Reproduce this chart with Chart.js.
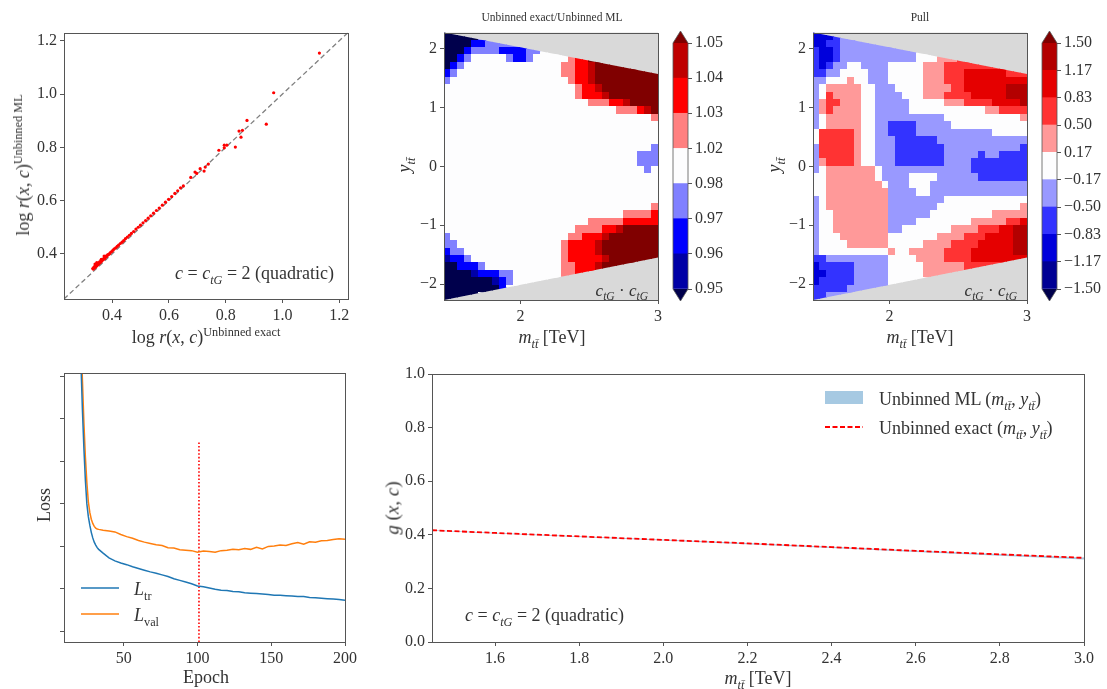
<!DOCTYPE html>
<html>
<head>
<meta charset="utf-8">
<script src="https://cdn.jsdelivr.net/npm/chart.js@4.4.1/dist/chart.umd.min.js"></script>
<style>
  body { margin: 0; background: #fff; width: 1107px; height: 689px; position: relative; overflow: hidden;
         font-family: 'Liberation Serif', serif; color: #333; }
  canvas { position: absolute; }
  .t { position: absolute; white-space: nowrap; font-size: 18px; line-height: 1; }
  .t sub, .t sup { font-size: 0.68em; line-height: 0; }
  .c { transform: translate(-50%, -50%); }
  .r { transform: translate(-100%, -50%); }
  .l { transform: translate(0, -50%); }
  .rot { transform: translate(-50%, -50%) rotate(-90deg); }
</style>
</head>
<body>
<canvas id="p1" width="360" height="310" style="left:0;top:20px"></canvas>
<canvas id="p2" width="285" height="330" style="left:380px;top:20px"></canvas>
<canvas id="cb1" width="75" height="290" style="left:665px;top:20px"></canvas>
<canvas id="p3" width="296" height="330" style="left:740px;top:20px"></canvas>
<canvas id="cb2" width="71" height="290" style="left:1036px;top:20px"></canvas>
<canvas id="p4" width="360" height="329" style="left:0;top:360px"></canvas>
<canvas id="p5" width="727" height="329" style="left:380px;top:360px"></canvas>

<!-- panel 1 -->
<div class="t c" style="left:206px;top:337px">log <i>r</i>(<i>x</i>, <i>c</i>)<sup>Unbinned exact</sup></div>
<div class="t rot" style="left:23px;top:165px">log <i>r</i>(<i>x</i>, <i>c</i>)<sup>Unbinned ML</sup></div>
<div class="t r" style="left:334px;top:273px"><i>c</i> = <i>c<sub>tG</sub></i> = 2 (quadratic)</div>
<!-- panel 2 -->
<div class="t c" style="left:552px;top:18px;font-size:11.5px">Unbinned exact/Unbinned ML</div>
<div class="t rot" style="left:404px;top:165px"><i>y<sub>tt̄</sub></i></div>
<div class="t c" style="left:552px;top:337px"><i>m<sub>tt̄</sub></i> [TeV]</div>
<div class="t r" style="left:648px;top:290px;font-size:17px"><i>c<sub>tG</sub></i> · <i>c<sub>tG</sub></i></div>
<!-- panel 3 -->
<div class="t c" style="left:920px;top:18px;font-size:11.5px">Pull</div>
<div class="t rot" style="left:774px;top:165px"><i>y<sub>tt̄</sub></i></div>
<div class="t c" style="left:920px;top:337px"><i>m<sub>tt̄</sub></i> [TeV]</div>
<div class="t r" style="left:1017px;top:290px;font-size:17px"><i>c<sub>tG</sub></i> · <i>c<sub>tG</sub></i></div>
<!-- panel 4 -->
<div class="t c" style="left:206px;top:677px">Epoch</div>
<div class="t rot" style="left:44px;top:505px">Loss</div>
<div class="t l" style="left:134px;top:589px"><i>L</i><sub>tr</sub></div>
<div class="t l" style="left:134px;top:615px"><i>L</i><sub>val</sub></div>
<!-- panel 5 -->
<div class="t rot" style="left:392px;top:508px;font-size:19px"><i>g</i> (<i>x</i>, <i>c</i>)</div>
<div class="t c" style="left:758px;top:678px"><i>m<sub>tt̄</sub></i> [TeV]</div>
<div class="t l" style="left:465px;top:615px"><i>c</i> = <i>c<sub>tG</sub></i> = 2 (quadratic)</div>
<div class="t l" style="left:879px;top:399px">Unbinned ML (<i>m<sub>tt̄</sub></i>, <i>y<sub>tt̄</sub></i>)</div>
<div class="t l" style="left:879px;top:428px">Unbinned exact (<i>m<sub>tt̄</sub></i>, <i>y<sub>tt̄</sub></i>)</div>

<script>
// ---------- panel 1: log r, ML vs exact ----------
const scatterX = [0.332,0.334,0.336,0.338,0.340,0.342,0.344,0.346,0.348,0.350,0.352,0.354,0.356,0.359,0.361,
  0.364,0.366,0.369,0.372,0.375,0.378,0.381,0.384,0.387,0.391,0.395,0.399,0.403,0.408,0.413,0.418,0.423,0.429,
  0.435,0.441,0.447,0.454,0.461,0.468,0.476,0.484,0.492,0.500,0.509,0.518,0.527,0.536,0.546,0.556,0.566,0.577,
  0.588,0.599,0.610,0.621,0.631,0.641,
  0.340,0.346,0.362,0.372,
  0.651,0.677,0.692,0.698,0.710,0.724,0.728,0.739,0.776,0.795,0.795,0.804,0.834,0.847,0.854,0.859,0.875,0.943,0.969,1.130];
const scatterY = [0.345,0.343,0.350,0.347,0.354,0.351,0.357,0.355,0.362,0.359,0.366,0.363,0.370,0.368,0.375,
  0.373,0.380,0.378,0.385,0.383,0.392,0.390,0.396,0.397,0.401,0.406,0.409,0.414,0.419,0.423,0.428,0.433,0.439,
  0.444,0.450,0.457,0.463,0.470,0.477,0.484,0.493,0.500,0.508,0.517,0.525,0.534,0.543,0.553,0.563,0.572,0.583,
  0.594,0.605,0.615,0.627,0.637,0.648,
  0.362,0.367,0.380,0.392,
  0.655,0.687,0.707,0.702,0.720,0.711,0.726,0.737,0.789,0.798,0.808,0.808,0.801,0.861,0.838,0.864,0.901,0.887,1.005,1.154];
const logRange = [0.2307, 1.2307];
const logTicks = [0.4, 0.6, 0.8, 1.0, 1.2];

// ---------- panels 2 & 3: maps in (m_tt, y_tt) ----------
const mapX = [1.445, 3.0];
const mapY = [-2.27, 2.27];
const edgeTop = [2.27, 1.565];
const edgeBottom = [-2.27, -1.55];
const mapXTicks = [2, 3];
const mapYTicks = [-2, -1, 0, 1, 2];

const ratioLevels = ['0.95', '0.96', '0.97', '0.98', '1.02', '1.03', '1.04', '1.05'];
const ratioColors = ['#00004c', '#0000a6', '#0000ff', '#8080ff', '#fdfdfe', '#ff8080', '#ff0000', '#bf0000', '#800000'];
// one char per cell = colour band index, rows from top (y = +2.27) to bottom
const ratioGrid = [
  "00000 33334 44444 44444 44444 44444 4",
  "00002 23333 33344 44444 44444 44444 4",
  "00023 33322 22334 44444 44444 44444 4",
  "00234 44443 22344 44456 68888 88888 8",
  "02344 44444 44444 44556 67888 88888 8",
  "23444 44444 44444 44556 67888 88888 8",
  "34444 44444 44444 44456 67888 88888 8",
  "44444 44444 44444 44445 66788 88888 8",
  "44444 44444 44444 44445 66678 88888 8",
  "44444 44444 44444 44444 45556 67888 8",
  "44444 44444 44444 44444 44444 55567 8",
  "44444 44444 44444 44444 44444 44444 5",
  "44444 44444 44444 44444 44444 44444 4",
  "44444 44444 44444 44444 44444 44444 4",
  "44444 44444 44444 44444 44444 44444 4",
  "44444 44444 44444 44444 44444 44444 3",
  "44444 44444 44444 44444 44444 44433 3",
  "44444 44444 44444 44444 44444 44433 3",
  "44444 44444 44444 44444 44444 44443 4",
  "44444 44444 44444 44444 44444 44444 4",
  "44444 44444 44444 44444 44444 44444 4",
  "44444 44444 44444 44444 44444 44444 4",
  "44444 44444 44444 44444 44444 44444 4",
  "44444 44444 44444 44444 44444 44444 5",
  "44444 44444 44444 44444 44444 45555 6",
  "44444 44444 44444 44444 45555 56666 6",
  "44444 44444 44444 44445 55566 78888 8",
  "34444 44444 44444 44455 66678 88888 8",
  "33444 44444 44444 44566 66788 88888 8",
  "23344 44444 44444 44566 66788 88888 8",
  "12234 44444 44444 44566 66678 88888 8",
  "00222 34444 44444 44556 66788 88888 8",
  "00001 22233 44444 44556 66666 66666 6",
  "00000 00123 44444 44444 44444 44444 4",
  "00000 00024 44444 44444 44444 44444 4",
  "00000 44444 44444 44444 44444 44444 4"
];

const pullLevels = ['\u22121.50', '\u22121.17', '\u22120.83', '\u22120.50', '\u22120.17', '0.17', '0.50', '0.83', '1.17', '1.50'];
const pullColors = ['#00004c', '#000094', '#0000db', '#3333ff', '#9999ff', '#fdfdfe', '#ff9999', '#ff3333', '#e50000', '#b30000', '#800000'];
const pullGrid = [
  "22234 44444 44444 44444 44444 44444 4",
  "22334 44444 44444 44444 44444 44444 4",
  "32234 44444 44444 55566 66666 66666 6",
  "32234 44444 44444 55566 67777 77777 7",
  "32344 55444 45555 56667 77777 77777 7",
  "33445 55544 45555 56667 77888 88877 7",
  "44555 65544 45555 56667 77888 88888 8",
  "45666 66554 44555 56666 77888 88899 9",
  "45766 66554 44455 56667 77788 88899 9",
  "46776 66554 44445 55556 66777 78888 9",
  "46766 66554 44445 55555 55555 66777 7",
  "45666 66554 44444 44445 55555 55555 6",
  "45666 66554 43333 44444 55555 55555 5",
  "57777 76554 43333 44444 44444 45555 5",
  "57777 76554 44333 33344 44444 44444 4",
  "47777 76554 44333 33334 44444 44444 3",
  "47777 76554 44333 33334 44443 44333 3",
  "46777 76554 44333 33334 44433 33333 3",
  "45666 66665 44444 44444 44433 33333 3",
  "55666 66665 44445 55544 44443 33333 3",
  "55666 66666 54445 55444 44444 44444 4",
  "55666 66666 64444 55444 44444 44444 4",
  "45666 66666 64444 44445 55555 55555 5",
  "45666 66666 64444 44455 55555 55555 6",
  "45566 66666 64444 44555 55555 56666 6",
  "45566 66666 64444 55555 55566 66677 8",
  "45566 66666 64455 55555 66667 77889 9",
  "45556 66666 65555 55566 66777 88889 9",
  "45555 66666 65555 56666 77778 88889 9",
  "45555 55555 56556 66667 77788 88889 9",
  "33444 44444 45555 66667 77788 88888 8",
  "23333 34444 45555 56666 66777 77777 7",
  "22333 34444 45555 56666 66666 66666 6",
  "23333 34444 45555 55555 55555 55555 5",
  "33333 44444 44444 44444 44444 44444 4",
  "33444 44444 44444 44444 44444 44444 4"
];

// ---------- panel 4: training history ----------
const epochs = [19,20,21,22,23,24,25,26,27,28,29,30,31,32,33,36,40,44,48,52,56,60,64,68,72,76,80,84,88,92,96,
  100,104,108,112,116,120,124,128,132,136,140,144,148,152,156,160,164,168,172,176,180,184,188,192,196,200];
const lossTrain = [9.0,7.5,6.3,5.2,4.3,3.55,3.0,2.7,2.5,2.33,2.2,2.1,2.03,1.97,1.93,1.84,1.73,1.66,1.61,1.57,1.52,
  1.48,1.44,1.40,1.37,1.33,1.29,1.24,1.20,1.16,1.12,1.07,1.05,1.02,0.99,0.97,0.96,0.94,0.93,0.91,0.90,0.89,0.88,
  0.87,0.85,0.85,0.84,0.83,0.82,0.82,0.80,0.79,0.78,0.77,0.76,0.75,0.73];
const lossVal = [12,9.5,7.0,5.9,4.9,4.1,3.5,3.05,2.8,2.64,2.54,2.47,2.43,2.41,2.40,2.38,2.36,2.34,2.28,2.23,2.19,
  2.14,2.10,2.07,2.04,2.02,1.97,1.96,1.92,1.91,1.90,1.86,1.89,1.88,1.86,1.90,1.91,1.93,1.92,1.95,1.93,1.98,1.94,
  2.00,2.01,2.03,2.02,2.06,2.09,2.05,2.11,2.10,2.13,2.14,2.16,2.18,2.17];
const bestEpoch = 101;
const bestLineTop = 4.45;
const epochRange = [9.5, 200];
const epochTicks = [50, 100, 150, 200];
const lossRange = [-0.25, 6.08];
const lossTicks = [0, 1, 2, 3, 4, 5, 6];

// ---------- panel 5: g(x, c) vs m_tt ----------
const mtt = [1.45, 1.6, 1.8, 2.0, 2.2, 2.4, 2.6, 2.8, 3.0];
const gExact = [0.417, 0.407, 0.394, 0.381, 0.368, 0.354, 0.340, 0.327, 0.314];
const gMLLow = [0.415, 0.405, 0.392, 0.379, 0.365, 0.351, 0.336, 0.322, 0.308];
const gMLHigh = [0.418, 0.408, 0.395, 0.382, 0.369, 0.355, 0.341, 0.328, 0.315];
const mttRange = [1.45, 3.0];
const mttTicks = [1.6, 1.8, 2.0, 2.2, 2.4, 2.6, 2.8, 3.0];
const gTicks = [0, 0.2, 0.4, 0.6, 0.8, 1.0];

// ---------- helpers ----------
const FONT = { family: "'Liberation Serif', serif", size: 16 };
const INK = '#333';
const SPINE = '#555';
const fmt1 = v => v.toFixed(1);
const fmtInt = v => (v < 0 ? '\u2212' : '') + Math.abs(v);

function axis(pos, min, max, ticks, fmt, fit) {
  return {
    type: 'linear', position: pos, min: min, max: max,
    afterBuildTicks: s => { s.ticks = ticks.map(v => ({ value: v })); },
    afterFit: s => { if (pos === 'left' || pos === 'right') s.width = fit; else s.height = fit; },
    ticks: { font: FONT, color: INK, padding: 3, maxRotation: 0, autoSkip: false, callback: fmt },
    grid: { display: true, drawOnChartArea: false, drawTicks: true, tickLength: 4, color: SPINE },
    border: { display: false }
  };
}

function base(padding) {
  return {
    responsive: false, animation: false, events: [],
    layout: { padding: padding },
    plugins: { legend: { display: false }, tooltip: { enabled: false } }
  };
}

const frame = {
  id: 'frame',
  afterDraw(chart) {
    const a = chart.chartArea, ctx = chart.ctx;
    ctx.save();
    ctx.strokeStyle = SPINE;
    ctx.lineWidth = 1;
    ctx.strokeRect(Math.round(a.left) + 0.5, Math.round(a.top) + 0.5,
                   Math.round(a.right) - Math.round(a.left), Math.round(a.bottom) - Math.round(a.top));
    ctx.restore();
  }
};

function heatmap(grid, colors) {
  return {
    id: 'heatmap',
    beforeDatasetsDraw(chart) {
      const { ctx, chartArea: a, scales: { x, y } } = chart;
      ctx.save();
      ctx.fillStyle = '#d9d9d9';
      ctx.fillRect(a.left, a.top, a.width, a.height);
      // data only exists inside the phase-space trapezoid
      ctx.beginPath();
      ctx.moveTo(x.getPixelForValue(mapX[0]), y.getPixelForValue(edgeTop[0]));
      ctx.lineTo(x.getPixelForValue(mapX[1]), y.getPixelForValue(edgeTop[1]));
      ctx.lineTo(x.getPixelForValue(mapX[1]), y.getPixelForValue(edgeBottom[1]));
      ctx.lineTo(x.getPixelForValue(mapX[0]), y.getPixelForValue(edgeBottom[0]));
      ctx.closePath();
      ctx.clip();
      const rows = grid.map(r => r.replace(/ /g, ''));
      const dy = (mapY[1] - mapY[0]) / rows.length;
      rows.forEach((row, r) => {
        const dx = (mapX[1] - mapX[0]) / row.length;
        for (let c = 0; c < row.length; c++) {
          const x0 = Math.floor(x.getPixelForValue(mapX[0] + c * dx));
          const x1 = Math.ceil(x.getPixelForValue(mapX[0] + (c + 1) * dx));
          const y0 = Math.floor(y.getPixelForValue(mapY[1] - r * dy));
          const y1 = Math.ceil(y.getPixelForValue(mapY[1] - (r + 1) * dy));
          ctx.fillStyle = colors[parseInt(row[c], 16)];
          ctx.fillRect(x0, y0, x1 - x0, y1 - y0);
        }
      });
      ctx.restore();
    }
  };
}

function cbExtend(colors) {
  return {
    id: 'cbext',
    afterDatasetsDraw(chart) {
      const { ctx, chartArea: a } = chart;
      const mid = (a.left + a.right) / 2, h = 12;
      ctx.save();
      ctx.fillStyle = colors[colors.length - 1];
      ctx.beginPath(); ctx.moveTo(a.left, a.top); ctx.lineTo(mid, a.top - h); ctx.lineTo(a.right, a.top); ctx.closePath(); ctx.fill();
      ctx.fillStyle = colors[0];
      ctx.beginPath(); ctx.moveTo(a.left, a.bottom); ctx.lineTo(mid, a.bottom + h); ctx.lineTo(a.right, a.bottom); ctx.closePath(); ctx.fill();
      ctx.strokeStyle = SPINE; ctx.lineWidth = 0.8;
      ctx.beginPath();
      ctx.moveTo(a.left, a.top); ctx.lineTo(mid, a.top - h); ctx.lineTo(a.right, a.top);
      ctx.lineTo(a.right, a.bottom); ctx.lineTo(mid, a.bottom + h); ctx.lineTo(a.left, a.bottom);
      ctx.closePath(); ctx.stroke();
      ctx.restore();
    }
  };
}

function colorbar(id, labels, colors, padLeft, fitW) {
  const n = labels.length - 1;
  const idx = labels.map((_, i) => i);
  new Chart(id, {
    type: 'bar',
    data: {
      labels: ['cb'],
      datasets: idx.slice(0, n).map(i => ({
        data: [[i, i + 1]], backgroundColor: colors[i + 1], borderWidth: 0,
        grouped: false, barPercentage: 1, categoryPercentage: 1
      }))
    },
    options: {
      ...base({ left: padLeft, top: 23, right: 0, bottom: 21 }),
      scales: {
        x: { display: false },
        y: axis('right', 0, n, idx, v => labels[v], fitW)
      }
    },
    plugins: [cbExtend(colors)]
  });
}

function mapChart(id, grid, colors, yFit, padRight) {
  new Chart(id, {
    type: 'scatter',
    data: { datasets: [] },
    options: {
      ...base({ left: 0, top: 12, right: padRight, bottom: 0 }),
      scales: {
        x: axis('bottom', mapX[0], mapX[1], mapXTicks, fmtInt, 50),
        y: axis('left', mapY[0], mapY[1], mapYTicks, fmtInt, yFit)
      }
    },
    plugins: [heatmap(grid, colors), frame]
  });
}

// ---------- panel 1 ----------
new Chart('p1', {
  type: 'scatter',
  data: {
    datasets: [
      { data: scatterX.map((x, i) => ({ x: x, y: scatterY[i] })), backgroundColor: '#ff0000',
        borderWidth: 0, pointRadius: 1.6, order: 0 },
      { type: 'line', data: logRange.map(v => ({ x: v, y: v })), borderColor: '#808080',
        borderWidth: 1.3, borderDash: [5, 3], pointRadius: 0, order: 1 }
    ]
  },
  options: {
    ...base({ left: 0, top: 12, right: 12, bottom: 0 }),
    scales: {
      x: axis('bottom', logRange[0], logRange[1], logTicks, fmt1, 31),
      y: axis('left', logRange[0], logRange[1], logTicks, fmt1, 64)
    }
  },
  plugins: [frame]
});

// ---------- panels 2, 3 and colour bars ----------
mapChart('p2', ratioGrid, ratioColors, 64, 6);
colorbar('cb1', ratioLevels, ratioColors, 8, 52);
mapChart('p3', pullGrid, pullColors, 73, 9);
colorbar('cb2', pullLevels, pullColors, 6, 50);

// ---------- panel 4 ----------
const lossLegend = {
  id: 'lossLegend',
  afterDraw(chart) {
    const { ctx, chartArea: a } = chart;
    ctx.save();
    ctx.lineWidth = 1.5;
    [['#1f77b4', 215], ['#ff7f0e', 241]].forEach(([col, dy]) => {
      ctx.strokeStyle = col;
      ctx.beginPath(); ctx.moveTo(a.left + 17, a.top + dy); ctx.lineTo(a.left + 55, a.top + dy); ctx.stroke();
    });
    ctx.restore();
  }
};
new Chart('p4', {
  type: 'line',
  data: {
    datasets: [
      { data: epochs.map((e, i) => ({ x: e, y: lossTrain[i] })), borderColor: '#1f77b4', borderWidth: 1.5, pointRadius: 0 },
      { data: epochs.map((e, i) => ({ x: e, y: lossVal[i] })), borderColor: '#ff7f0e', borderWidth: 1.5, pointRadius: 0 },
      { data: [{ x: bestEpoch, y: lossRange[0] }, { x: bestEpoch, y: bestLineTop }], borderColor: '#ff0000',
        borderWidth: 1.6, borderDash: [1.6, 2], pointRadius: 0 }
    ]
  },
  options: {
    ...base({ left: 0, top: 13, right: 12, bottom: 0 }),
    scales: {
      x: axis('bottom', epochRange[0], epochRange[1], epochTicks, v => String(v), 47),
      y: axis('left', lossRange[0], lossRange[1], lossTicks, () => '', 64)
    }
  },
  plugins: [frame, lossLegend]
});

// ---------- panel 5 ----------
const gLegend = {
  id: 'gLegend',
  afterDraw(chart) {
    const { ctx, chartArea: a } = chart;
    ctx.save();
    ctx.fillStyle = '#a6c9e2';
    ctx.fillRect(a.left + 393, a.top + 17, 38, 13);
    ctx.strokeStyle = '#ff0000'; ctx.lineWidth = 1.8; ctx.setLineDash([5, 2.5]);
    ctx.beginPath(); ctx.moveTo(a.left + 393, a.top + 53); ctx.lineTo(a.left + 431, a.top + 53); ctx.stroke();
    ctx.restore();
  }
};
new Chart('p5', {
  type: 'line',
  data: {
    datasets: [
      { data: mtt.map((m, i) => ({ x: m, y: gMLHigh[i] })), borderWidth: 0, pointRadius: 0,
        backgroundColor: '#a6c9e2', fill: '+1', order: 1 },
      { data: mtt.map((m, i) => ({ x: m, y: gMLLow[i] })), borderWidth: 0, pointRadius: 0, fill: false, order: 2 },
      { data: mtt.map((m, i) => ({ x: m, y: gExact[i] })), borderColor: '#ff0000', borderWidth: 1.8,
        borderDash: [5, 2.5], pointRadius: 0, fill: false, order: 0 }
    ]
  },
  options: {
    ...base({ left: 0, top: 14, right: 23, bottom: 0 }),
    scales: {
      x: axis('bottom', mttRange[0], mttRange[1], mttTicks, fmt1, 47),
      y: axis('left', 0, 1, gTicks, fmt1, 52)
    }
  },
  plugins: [frame, gLegend]
});
</script>
</body>
</html>
